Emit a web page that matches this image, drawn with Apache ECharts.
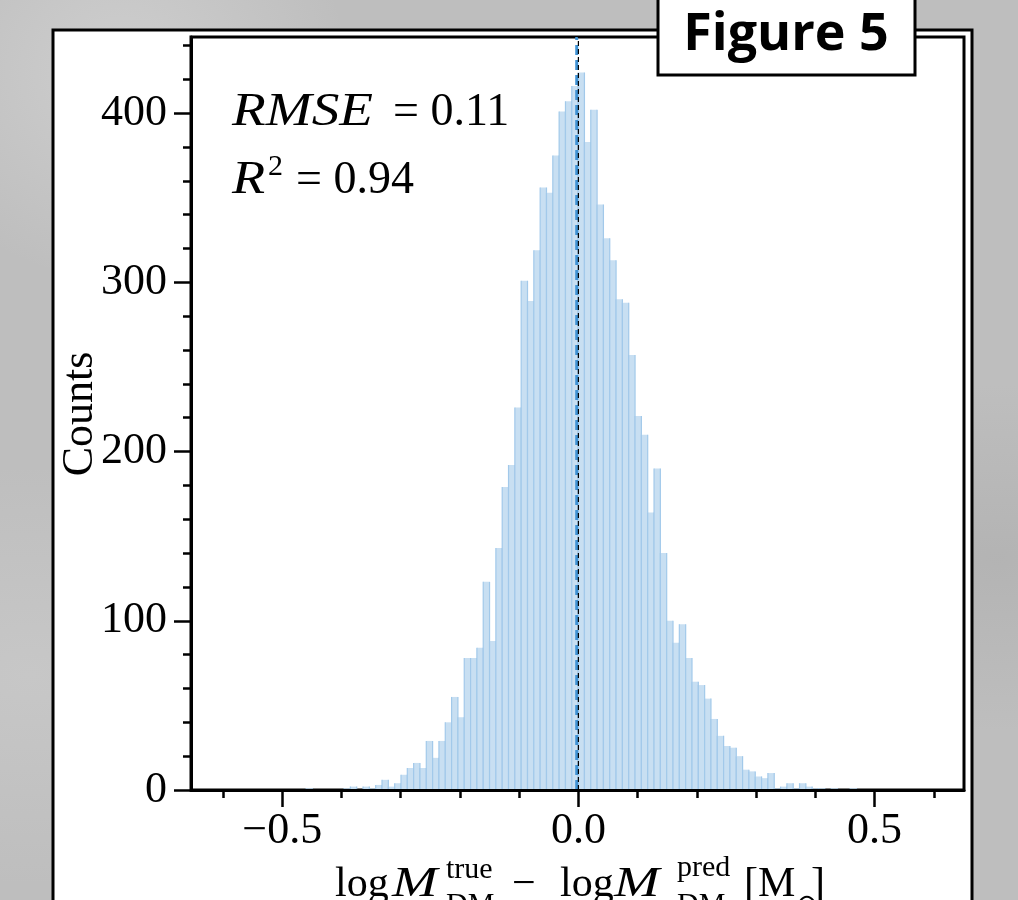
<!DOCTYPE html>
<html>
<head>
<meta charset="utf-8">
<script src="https://cdn.jsdelivr.net/npm/echarts@6.0.0/dist/echarts.min.js"></script>
<style>
  html, body { margin: 0; padding: 0; }
  body {
    width: 1018px; height: 900px; overflow: hidden;
    background:
      radial-gradient(ellipse at 12% 8%, rgba(222,222,222,0.5), rgba(222,222,222,0) 18%),
      radial-gradient(ellipse at 98% 62%, rgba(160,160,160,0.35), rgba(160,160,160,0) 22%),
      radial-gradient(ellipse at 3% 75%, rgba(210,210,210,0.45), rgba(210,210,210,0) 22%),
      #bebebe;
  }
  #chart { width: 1018px; height: 900px; }
</style>
</head>
<body>
<div id="chart"></div>
<script>
// Residual histogram: log M_DM(true) - log M_DM(pred)
const binEdgeMin = -0.4597;   // left edge of the first bin
const binWidth = 0.01068;     // bin width in dex
const counts = [
  1, 0, 0, 0, 0, 0, 1, 2, 0, 2,
  1, 3, 6, 2, 4, 9, 13, 16, 13, 29,
  19, 29, 40, 55, 43, 78, 78, 84, 123, 88,
  143, 179, 192, 226, 301, 289, 319, 356, 353, 375,
  401, 407, 416, 424, 383, 402, 346, 326, 313, 290,
  288, 257, 221, 210, 164, 190, 140, 100, 87, 98,
  78, 64, 62, 54, 42, 32, 26, 25, 20, 12,
  11, 8, 7, 10, 1, 2, 4, 1, 4, 2,
  1, 1, 0, 1, 0, 0, 1
];
const zeroLine = 0.0;          // perfect prediction
const meanResidual = -0.0028;  // mean of the residuals
const rmse = '0.11';
const r2 = '0.94';

const xMin = -0.654, xMax = 0.651;
const yMin = 0, yMax = 445;
const xMajorTicks = [-0.5, 0.0, 0.5];
const xMinorTicks = [-0.6, -0.4, -0.3, -0.2, -0.1, 0.1, 0.2, 0.3, 0.4, 0.6];
const yMajorTicks = [0, 100, 200, 300, 400];
const yMinorTicks = [20, 40, 60, 80, 120, 140, 160, 180, 220, 240, 260, 280, 320, 340, 360, 380, 420, 440];

const serif = '"Liberation Serif", "DejaVu Serif", serif';
const barFill = '#c8dff2';
const barEdge = '#a2c9ea';

const binData = counts.map((c, i) => [binEdgeMin + i * binWidth, binEdgeMin + (i + 1) * binWidth, c]);

function fmtX(v) {
  const s = Math.abs(v).toFixed(1);
  return v < 0 ? '\u2212' + s : s;
}

const chart = echarts.init(document.getElementById('chart'), null, { renderer: 'canvas' });

const tickLine = { color: '#000', width: 2.5 };

// plain text element; sx widens math-italic glyphs
function txt(x, y, text, font, sx) {
  return { type: 'text', x: x, y: y, z: 20, silent: true, scaleX: sx || 1,
           style: { text: text, font: font, fill: '#000', verticalAlign: 'middle' } };
}
const big = '42px ' + serif, bigIt = 'italic 42px ' + serif, small = '30px ' + serif;
const note = '46px ' + serif, noteIt = 'italic 46px ' + serif;

chart.setOption({
  backgroundColor: 'transparent',
  animation: false,
  grid: {
    left: 191, top: 37, width: 773, height: 753,
    show: true, borderColor: '#000', borderWidth: 3, backgroundColor: 'transparent',
    z: 1
  },
  xAxis: [
    {
      type: 'value', min: xMin, max: xMax, position: 'bottom', z: 10,
      axisLine: { show: true, onZero: false, lineStyle: { color: '#000', width: 3 } },
      axisTick: { show: true, customValues: xMajorTicks, length: 17, lineStyle: tickLine },
      axisLabel: {
        customValues: xMajorTicks, formatter: fmtX, margin: 19,
        fontFamily: serif, fontSize: 44, color: '#000'
      },
      splitLine: { show: false }
    },
    {
      type: 'value', min: xMin, max: xMax, position: 'bottom', z: 10,
      axisLine: { show: false, onZero: false },
      axisTick: { show: true, customValues: xMinorTicks, length: 8, lineStyle: tickLine },
      axisLabel: { show: false },
      splitLine: { show: false }
    }
  ],
  yAxis: [
    {
      type: 'value', min: yMin, max: yMax, position: 'left', z: 10,
      axisLine: { show: true, onZero: false, lineStyle: { color: '#000', width: 3 } },
      axisTick: { show: true, customValues: yMajorTicks, length: 17, lineStyle: tickLine },
      axisLabel: {
        customValues: yMajorTicks, margin: 24,
        fontFamily: serif, fontSize: 44, color: '#000'
      },
      splitLine: { show: false }
    },
    {
      type: 'value', min: yMin, max: yMax, position: 'left', z: 10,
      axisLine: { show: false, onZero: false },
      axisTick: { show: true, customValues: yMinorTicks, length: 8, lineStyle: tickLine },
      axisLabel: { show: false },
      splitLine: { show: false }
    }
  ],
  series: [
    {
      type: 'custom',
      xAxisIndex: 0, yAxisIndex: 0,
      clip: true, z: 2,
      encode: { x: [0, 1], y: 2 },
      data: binData,
      renderItem: function (params, api) {
        const lo = api.value(0), hi = api.value(1), c = api.value(2);
        if (!c) return null;
        const p0 = api.coord([lo, 0]);
        const p1 = api.coord([hi, c]);
        return {
          type: 'group',
          children: [
            {
              type: 'rect',
              shape: { x: p0[0], y: p1[1], width: p1[0] - p0[0], height: p0[1] - p1[1] },
              style: { fill: barFill }
            },
            {
              type: 'line',
              shape: { x1: p0[0], y1: p1[1], x2: p0[0], y2: p0[1] },
              style: { stroke: barEdge, lineWidth: 1.2 }
            },
            {
              type: 'line',
              shape: { x1: p1[0], y1: p1[1], x2: p1[0], y2: p0[1] },
              style: { stroke: barEdge, lineWidth: 1.2 }
            }
          ]
        };
      }
    },
    {
      type: 'line', xAxisIndex: 0, yAxisIndex: 0, z: 4,
      symbol: 'none', silent: true,
      data: [[meanResidual, yMin], [meanResidual, yMax]],
      lineStyle: { color: '#3f92d4', width: 3, type: [10, 5] }
    },
    {
      type: 'line', xAxisIndex: 0, yAxisIndex: 0, z: 5,
      symbol: 'none', silent: true,
      data: [[zeroLine, yMin], [zeroLine, yMax]],
      lineStyle: { color: '#000', width: 1.2, type: [5, 3] }
    }
  ],
  graphic: [
    // white panel behind the plot
    {
      type: 'rect', z: -10, silent: true,
      shape: { x: 53, y: 30, width: 919, height: 900 },
      style: { fill: '#fff', stroke: '#000', lineWidth: 3 }
    },
    // y axis title
    {
      type: 'text', x: 80, y: 414, rotation: Math.PI / 2, z: 20, silent: true,
      style: { text: 'Counts', font: '44px ' + serif, fill: '#000', align: 'center', verticalAlign: 'middle' }
    },
    // statistics
    txt(232, 113, 'RMSE', noteIt, 1.2),
    txt(393, 113, '= ' + rmse, note),
    txt(232, 181, 'R', noteIt, 1.18),
    txt(268, 167, '2', small),
    txt(296, 181, '= ' + r2, note),
    // x axis title
    txt(335, 885, 'log', big),
    txt(392, 885, 'M', bigIt, 1.3),
    txt(446, 870, 'true', small),
    txt(446, 905, 'DM', small),
    txt(512, 885, '\u2212', big),
    txt(560, 885, 'log', big),
    txt(614, 885, 'M', bigIt, 1.3),
    txt(677, 868, 'pred', small),
    txt(677, 905, 'DM', small),
    txt(744, 885, '[M', big),
    txt(796, 905, '\u2299', '26px ' + serif),
    txt(811, 885, ']', big),
    // figure tag
    {
      type: 'rect', z: 30, silent: true,
      shape: { x: 658, y: -4, width: 257, height: 79 },
      style: { fill: '#fff', stroke: '#000', lineWidth: 3 }
    },
    {
      type: 'text', x: 786, y: 35, z: 31, silent: true,
      style: {
        text: 'Figure 5', font: 'bold 52px "Open Sans", Lato, sans-serif', fill: '#000',
        align: 'center', verticalAlign: 'middle'
      }
    }
  ]
});
</script>
</body>
</html>
